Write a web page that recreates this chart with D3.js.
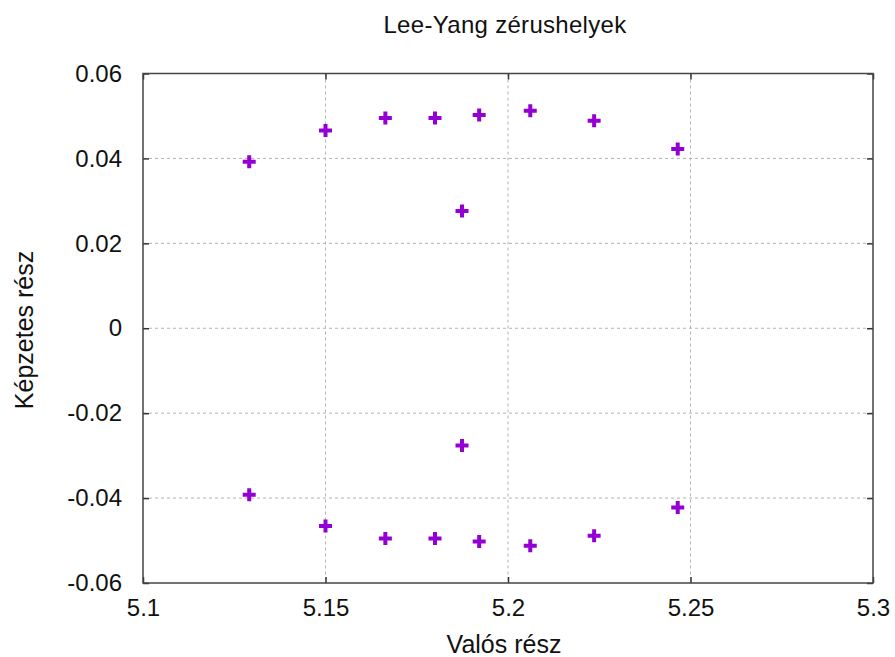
<!DOCTYPE html>
<html>
<head>
<meta charset="utf-8">
<script src="https://cdn.jsdelivr.net/npm/d3@7"></script>
<style>
  body { margin: 0; background: #fff; }
  text { font-family: "Liberation Sans", Arial, sans-serif; fill: #111; }
</style>
</head>
<body>
<div id="chart"></div>
<script>
// Lee-Yang zeros: real parts and imaginary parts (upper half, lower half is the conjugate)
var realPart = [5.1291, 5.1500, 5.1664, 5.1800, 5.1921, 5.2061, 5.2236, 5.2465, 5.1874];
var imagPart = [0.0392, 0.0466, 0.0495, 0.0495, 0.0502, 0.0512, 0.0489, 0.0422, 0.0276];
var xTicks = [5.1, 5.15, 5.2, 5.25, 5.3];
var yTicks = [-0.06, -0.04, -0.02, 0, 0.02, 0.04, 0.06];

var margins = { top: 73.5, right: 22, bottom: 74, left: 143 },
  width = 895 - margins.left - margins.right,
  height = 657 - margins.top - margins.bottom;

var svg = d3.select("#chart")
  .append("svg")
  .attr("width", 895)
  .attr("height", 657)
  .append("g")
  .attr("transform", "translate(" + margins.left + "," + margins.top + ")");

var x = d3.scaleLinear().domain([5.1, 5.3]).range([0, width]);
var y = d3.scaleLinear().domain([-0.06, 0.06]).range([height, 0]);

// grid
svg.append("g").selectAll("line").data(xTicks.slice(1, -1)).enter().append("line")
  .attr("x1", function (d) { return x(d); }).attr("x2", function (d) { return x(d); })
  .attr("y1", 0).attr("y2", height)
  .attr("stroke", "#b3b3b3").attr("stroke-width", 1).attr("stroke-dasharray", "3,3");
svg.append("g").selectAll("line").data(yTicks.slice(1, -1)).enter().append("line")
  .attr("y1", function (d) { return y(d); }).attr("y2", function (d) { return y(d); })
  .attr("x1", 0).attr("x2", width)
  .attr("stroke", "#b3b3b3").attr("stroke-width", 1).attr("stroke-dasharray", "3,3");

// axes with inward ticks, mirrored on top and right
var fmtX = function (d) { return String(+d.toFixed(2)); };
var fmtY = function (d) { return d === 0 ? "0" : d.toFixed(2); };

var axB = svg.append("g").attr("transform", "translate(0," + height + ")")
  .call(d3.axisBottom(x).tickValues(xTicks).tickFormat(fmtX).tickSizeInner(-6).tickSizeOuter(0).tickPadding(16));
var axT = svg.append("g")
  .call(d3.axisTop(x).tickValues(xTicks).tickFormat("").tickSizeInner(-6).tickSizeOuter(0));
var axL = svg.append("g")
  .call(d3.axisLeft(y).tickValues(yTicks).tickFormat(fmtY).tickSizeInner(-6).tickSizeOuter(0).tickPadding(21));
var axR = svg.append("g").attr("transform", "translate(" + width + ",0)")
  .call(d3.axisRight(y).tickValues(yTicks).tickFormat("").tickSizeInner(-6).tickSizeOuter(0));

[axB, axT, axL, axR].forEach(function (a) {
  a.select(".domain").remove();
  a.selectAll("line").attr("stroke", "#333").attr("stroke-width", 1.5);
  a.selectAll("text").style("font-size", "24px").style("font-family", "Liberation Sans, Arial, sans-serif").attr("fill", "#111");
});
axB.selectAll("text").attr("dy", "0.71em");

// frame
svg.append("rect").attr("x", 0).attr("y", 0).attr("width", width).attr("height", height)
  .attr("fill", "none").attr("stroke", "#444").attr("stroke-width", 1.5);

// points (upper and conjugate lower)
var pts = [];
realPart.forEach(function (r, i) {
  pts.push({ re: r, im: imagPart[i] });
  pts.push({ re: r, im: -imagPart[i] });
});
var plus = "M-6.5,0H6.5M0,-6.5V6.5";
svg.append("g").selectAll("path").data(pts).enter().append("path")
  .attr("transform", function (d) { return "translate(" + x(d.re) + "," + y(d.im) + ")"; })
  .attr("d", plus)
  .attr("stroke", "#9400d3").attr("stroke-width", 4).attr("fill", "none");

// titles
svg.append("text").attr("x", width / 2 - 3).attr("y", 33 - margins.top)
  .attr("text-anchor", "middle").style("font-size", "24px").style("letter-spacing", "0.3px")
  .text("Lee-Yang zérushelyek");

svg.append("text").attr("x", width / 2 - 4).attr("y", 653 - margins.top)
  .attr("text-anchor", "middle").style("font-size", "25px")
  .text("Valós rész");

svg.append("text").attr("transform", "rotate(-90)")
  .attr("x", -(330 - margins.top)).attr("y", 33 - margins.left)
  .attr("text-anchor", "middle").style("font-size", "25px")
  .text("Képzetes rész");
</script>
</body>
</html>
